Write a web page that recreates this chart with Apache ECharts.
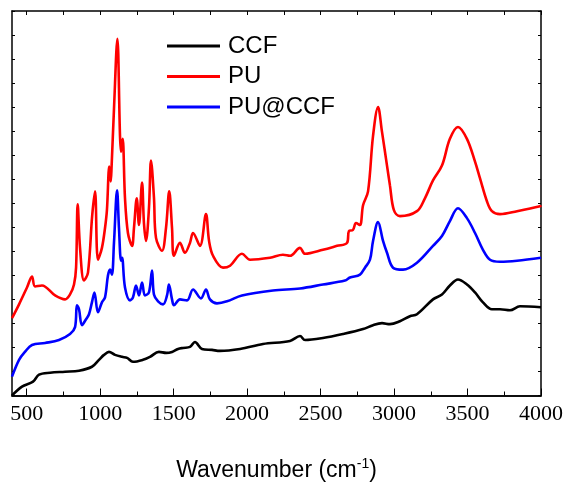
<!DOCTYPE html>
<html>
<head>
<meta charset="utf-8">
<script src="https://cdn.jsdelivr.net/npm/echarts@6/dist/echarts.min.js"></script>
<style>
  html, body { margin: 0; padding: 0; background: #fff; }
  #chart { width: 567px; height: 487px; }
</style>
</head>
<body>
<div id="chart"></div>
<script>
// wavenumber (cm-1) / intensity (a.u.) pairs
const ccfData = [
  [400, 0], [468, 9], [543, 14], [584, 21], [659, 23], [761, 24], [856, 25],
  [944, 29], [992, 36], [1026, 41], [1060, 44], [1101, 41], [1149, 39],
  [1183, 38], [1223, 34], [1291, 36], [1339, 39], [1400, 44], [1450, 43],
  [1489, 44], [1530, 47], [1564, 48], [1611, 49], [1645, 54], [1693, 47],
  [1761, 46], [1815, 45], [1952, 47], [2108, 52], [2292, 55], [2360, 60],
  [2394, 56], [2516, 58], [2652, 62], [2789, 67], [2857, 71], [2918, 73],
  [2972, 72], [3040, 75], [3108, 80], [3156, 82], [3265, 97], [3326, 102],
  [3380, 111], [3435, 117], [3496, 112], [3551, 104], [3605, 94], [3666, 87],
  [3721, 87], [3789, 86], [3857, 90], [4000, 89]
];

const puData = [
  [400, 78], [448, 92], [502, 109], [536, 120], [557, 110], [604, 111],
  [693, 101], [761, 97], [795, 102], [822, 112], [836, 129], [847, 193],
  [863, 149], [890, 116], [917, 124], [946, 182], [965, 206], [985, 137],
  [1012, 149], [1033, 169], [1046, 187], [1062, 231], [1072, 216], [1078, 232],
  [1094, 289], [1117, 360], [1135, 262], [1142, 246], [1153, 259], [1169, 199],
  [1189, 164], [1217, 151], [1230, 169], [1249, 199], [1264, 172], [1285, 215],
  [1298, 174], [1312, 156], [1332, 189], [1346, 237], [1366, 200], [1380, 159],
  [1421, 146], [1448, 169], [1470, 206], [1489, 169], [1502, 141], [1543, 154],
  [1577, 144], [1611, 154], [1632, 164], [1679, 151], [1720, 183], [1741, 156],
  [1768, 141], [1836, 129], [1884, 131], [1965, 143], [2020, 137], [2156, 139],
  [2244, 142], [2292, 141], [2360, 149], [2394, 143], [2516, 147], [2612, 151],
  [2680, 154], [2693, 166], [2720, 167], [2741, 174], [2768, 172], [2789, 192],
  [2823, 206], [2857, 262], [2891, 291], [2918, 266], [2952, 232], [2972, 212],
  [2999, 187], [3040, 181], [3156, 186], [3210, 199], [3265, 217], [3326, 232],
  [3380, 259], [3435, 271], [3496, 259], [3551, 236], [3585, 219], [3632, 196],
  [3666, 186], [3721, 183], [3837, 186], [3993, 191], [4000, 192]
];

const puCcfData = [
  [400, 19], [448, 36], [488, 44], [536, 51], [625, 53], [720, 56], [795, 62],
  [829, 69], [842, 91], [856, 87], [876, 71], [904, 77], [924, 82], [944, 94],
  [961, 104], [985, 84], [1012, 94], [1033, 99], [1053, 121], [1067, 127],
  [1080, 122], [1094, 154], [1115, 207], [1128, 169], [1142, 136], [1149, 139],
  [1169, 109], [1203, 96], [1223, 99], [1244, 111], [1264, 101], [1285, 114],
  [1305, 101], [1332, 104], [1353, 126], [1366, 102], [1394, 95], [1428, 92],
  [1455, 101], [1468, 112], [1489, 97], [1502, 91], [1543, 97], [1591, 96],
  [1632, 107], [1686, 98], [1720, 107], [1747, 97], [1795, 93], [1863, 95],
  [1965, 101], [2176, 106], [2360, 108], [2516, 112], [2666, 116], [2700, 119],
  [2768, 122], [2802, 129], [2836, 137], [2857, 156], [2891, 175], [2925, 156],
  [2952, 144], [2993, 129], [3061, 127], [3156, 134], [3265, 151], [3326, 161],
  [3380, 176], [3435, 189], [3496, 179], [3551, 164], [3605, 147], [3653, 137],
  [3721, 135], [3837, 136], [4000, 139]
];

const majorTicks = [500, 1000, 1500, 2000, 2500, 3000, 3500, 4000];
const minorTicks = [750, 1250, 1750, 2250, 2750, 3250, 3750];
const seriesNames = ["CCF", "PU", "PU@CCF"];
const seriesColors = ["#000000", "#ff0000", "#0000ff"];

const chart = echarts.init(document.getElementById("chart"));

const axisLine = { show: true, lineStyle: { color: "#000", width: 1.5 } };
const xBase = { type: "value", min: 400, max: 4000, splitLine: { show: false } };
const yBase = {
  type: "value", min: 0, max: 388, interval: 24.25,
  splitLine: { show: false }, axisLabel: { show: false },
  axisLine: axisLine,
  axisTick: { show: true, inside: true, length: 3, lineStyle: { color: "#000" } },
};

chart.setOption({
  animation: false,
  backgroundColor: "#fff",
  grid: { left: 12, right: 26, top: 11, bottom: 88 },
  legend: {
    data: seriesNames,
    orient: "vertical",
    left: 167,
    top: 34,
    padding: 0,
    itemWidth: 53,
    itemHeight: 3,
    itemGap: 6.5,
    icon: "rect",
    textStyle: { fontFamily: "Liberation Sans", fontSize: 24, color: "#000", padding: [0, 0, 0, 3] },
  },
  xAxis: [
    {
      ...xBase,
      position: "bottom",
      axisLine: axisLine,
      axisTick: { show: true, inside: true, length: 7, customValues: majorTicks, lineStyle: { color: "#000" } },
      axisLabel: {
        customValues: majorTicks,
        formatter: (v) => String(v),
        margin: 8,
        fontFamily: "Liberation Serif",
        fontSize: 22,
        color: "#000",
      },
      name: "Wavenumber (cm{sup|-1})",
      nameLocation: "middle",
      nameGap: 62,
      nameTextStyle: {
        fontFamily: "Liberation Sans",
        fontSize: 23,
        color: "#000",
        rich: {
          sup: { fontFamily: "Liberation Sans", fontSize: 14, color: "#000", verticalAlign: "top", padding: [0, 0, 12, 0] },
        },
      },
    },
    {
      ...xBase,
      position: "bottom",
      axisLine: axisLine,
      axisTick: { show: true, inside: true, length: 4, customValues: minorTicks, lineStyle: { color: "#000" } },
      axisLabel: { show: false },
    },
    {
      ...xBase,
      position: "top",
      axisLine: axisLine,
      axisTick: { show: true, inside: true, length: 4, customValues: majorTicks.concat(minorTicks), lineStyle: { color: "#000" } },
      axisLabel: { show: false },
    },
  ],
  yAxis: [
    { ...yBase, position: "left" },
    { ...yBase, position: "right" },
  ],
  series: [
    { name: "CCF", data: ccfData },
    { name: "PU", data: puData },
    { name: "PU@CCF", data: puCcfData },
  ].map((s, i) => ({
    ...s,
    type: "line",
    xAxisIndex: 0,
    yAxisIndex: 0,
    showSymbol: false,
    symbol: "none",
    smooth: 0.35,
    color: seriesColors[i],
    lineStyle: { width: 2.6, color: seriesColors[i] },
  })),
});
</script>
</body>
</html>
